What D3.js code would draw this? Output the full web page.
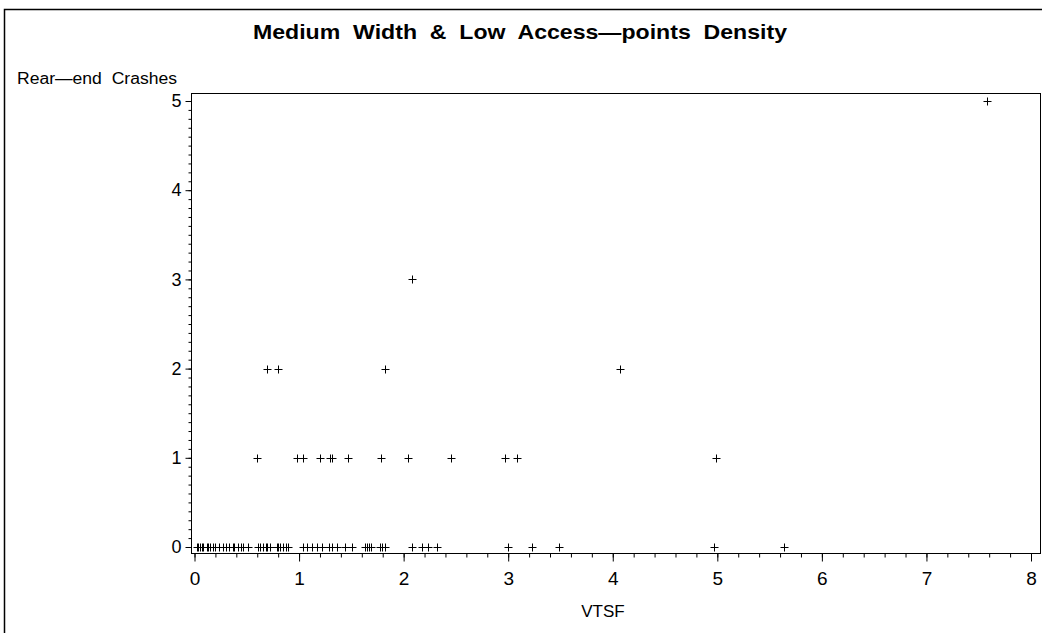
<!DOCTYPE html>
<html>
<head>
<meta charset="utf-8">
<script src="https://cdn.jsdelivr.net/npm/d3@7"></script>
<style>
  body { margin: 0; background: #fff; }
  text { font-family: "Liberation Sans", Arial, sans-serif; fill: #000; white-space: pre; }
</style>
</head>
<body>
<svg id="chart" width="1042" height="633"></svg>
<script>

const chartTitle = 'Medium  Width  &  Low  Access\u2014points  Density'
const yLabel = 'Rear\u2014end  Crashes'
const xLabel = 'VTSF'

const xTicks = [0, 1, 2, 3, 4, 5, 6, 7, 8]
const yTicks = [0, 1, 2, 3, 4, 5]

// VTSF values by crash count
const vtsf0 = [
  0.021, 0.036, 0.052, 0.069, 0.085, 0.117, 0.132, 0.148, 0.18, 0.196,
  0.238, 0.27, 0.301, 0.333, 0.366, 0.381, 0.419, 0.442, 0.467, 0.515,
  0.605, 0.627, 0.658, 0.684, 0.696, 0.722, 0.786, 0.801, 0.817, 0.843, 0.875, 0.897,
  1.038, 1.076, 1.124, 1.171, 1.219, 1.286, 1.315, 1.362, 1.439, 1.506,
  1.63, 1.65, 1.669, 1.688, 1.774, 1.793, 1.822,
  2.08, 2.176, 2.232, 2.319, 2.998, 3.227, 3.486, 4.967, 5.636
]
const vtsf1 = [0.6, 0.982, 1.033, 1.204, 1.295, 1.315, 1.466, 1.779, 2.04, 2.454, 2.968, 3.089, 4.983]
const vtsf2 = [0.69, 0.801, 1.819, 4.066]
const vtsf3 = [2.081]
const vtsf5 = [7.583]

const points = [
  ...vtsf0.map(x => ({ x, y: 0 })),
  ...vtsf1.map(x => ({ x, y: 1 })),
  ...vtsf2.map(x => ({ x, y: 2 })),
  ...vtsf3.map(x => ({ x, y: 3 })),
  ...vtsf5.map(x => ({ x, y: 5 }))
]

const frame = { left: 191, right: 1040, top: 93, bottom: 553 }

const svg = d3.select('#chart')

svg.append('rect').attr('width', 1042).attr('height', 633).attr('fill', '#fff')

// outer border (only top and left are visible)
svg.append('path')
  .attr('d', 'M4.5,633V9.5H1042')
  .attr('fill', 'none').attr('stroke', '#000').attr('stroke-width', 1.5)

const x = d3.scaleLinear().domain([0, 8]).range([194.5, 1031])
const y = d3.scaleLinear().domain([0, 5]).range([547, 101])

svg.append('rect')
  .attr('x', frame.left + 0.5).attr('y', frame.top + 0.5)
  .attr('width', frame.right - frame.left).attr('height', frame.bottom - frame.top)
  .attr('fill', 'none').attr('stroke', '#000').attr('stroke-width', 1)

// x axis: minor then major ticks
const xMinor = svg.append('g')
  .attr('transform', `translate(0, ${frame.bottom + 0.5})`)
  .call(d3.axisBottom(x).tickValues(d3.range(0, 8.001, 0.2)).tickSize(4).tickFormat(''))
xMinor.select('.domain').remove()

const xMajor = svg.append('g')
  .attr('transform', `translate(0, ${frame.bottom + 0.5})`)
  .call(d3.axisBottom(x).tickValues(xTicks).tickSize(8).tickPadding(10).tickFormat(d3.format('d')))
xMajor.select('.domain').remove()
xMajor.selectAll('text')
  .attr('font-size', 19)
  .attr('font-family', '"Liberation Sans Narrow", "Liberation Sans", Arial, sans-serif')

// y axis: minor then major ticks
const yMinor = svg.append('g')
  .attr('transform', `translate(${frame.left + 0.5}, 0)`)
  .call(d3.axisLeft(y).tickValues(d3.range(0, 5.001, 0.1)).tickSize(3).tickFormat(''))
yMinor.select('.domain').remove()

const yMajor = svg.append('g')
  .attr('transform', `translate(${frame.left + 0.5}, 0)`)
  .call(d3.axisLeft(y).tickValues(yTicks).tickSize(6).tickPadding(4).tickFormat(d3.format('d')))
yMajor.select('.domain').remove()
yMajor.selectAll('text').attr('font-size', 18)

svg.selectAll('.tick line').attr('stroke', '#000')
svg.selectAll('.tick text').attr('fill', '#000')

// titles
svg.append('text')
  .attr('x', 253).attr('y', 39)
  .attr('font-size', 21).attr('font-weight', 'bold')
  .attr('textLength', 534).attr('lengthAdjust', 'spacingAndGlyphs')
  .text(chartTitle)

svg.append('text')
  .attr('x', 17).attr('y', 84)
  .attr('font-size', 16)
  .attr('textLength', 160).attr('lengthAdjust', 'spacingAndGlyphs')
  .text(yLabel)

svg.append('text')
  .attr('x', 603).attr('y', 617)
  .attr('text-anchor', 'middle')
  .attr('font-size', 17)
  .text(xLabel)

// crosses
svg.append('g').selectAll('path')
  .data(points)
  .join('path')
  .attr('transform', d => `translate(${Math.round(x(d.x)) + 0.5}, ${Math.round(y(d.y)) + 0.5})`)
  .attr('d', 'M-4,0H4M0,-4V4')
  .attr('stroke', '#000')
  .attr('stroke-width', 1)

</script>
</body>
</html>
